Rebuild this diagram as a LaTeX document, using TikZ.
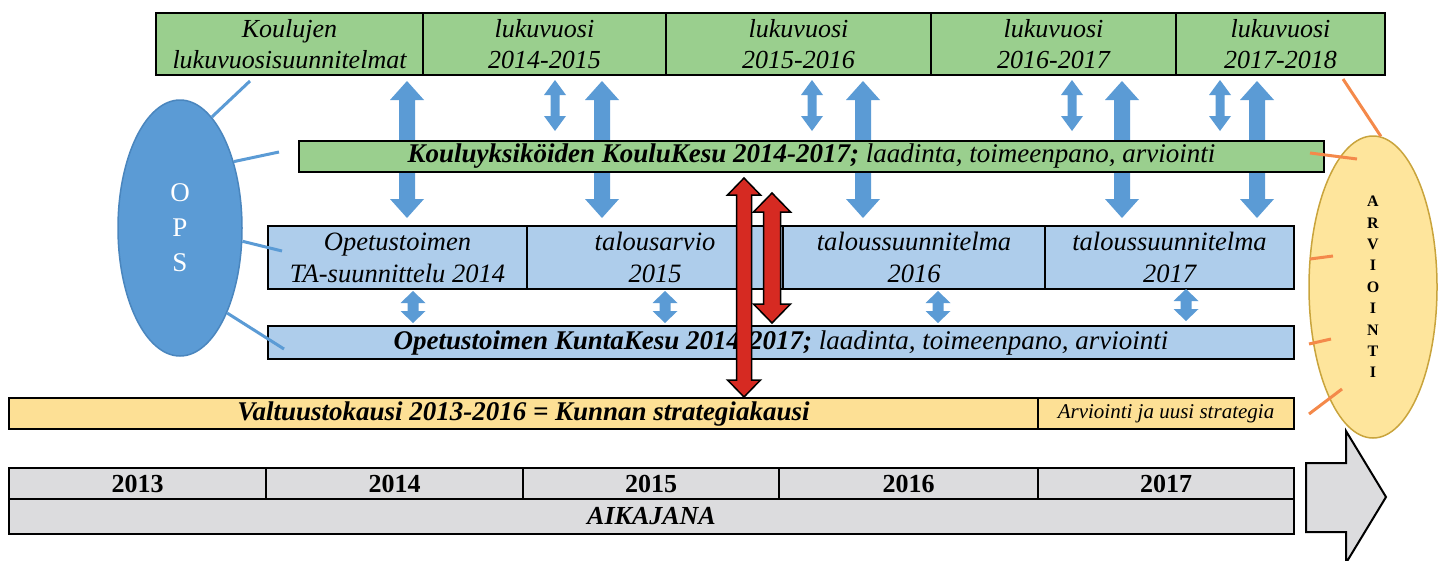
\documentclass[tikz,border=0pt]{standalone}
\usepackage{fontspec}
\setmainfont{Liberation Serif}
\usetikzlibrary{shapes.geometric}
\definecolor{grn}{HTML}{9ACF8E}
\definecolor{lblue}{HTML}{AECDEB}
\definecolor{ylw}{HTML}{FDE095}
\definecolor{gry}{HTML}{DCDCDE}
\definecolor{arrblue}{HTML}{5B9BD5}
\definecolor{opsedge}{HTML}{4A86BE}
\definecolor{evalfill}{HTML}{FEE59C}
\definecolor{evaledge}{HTML}{C9A43C}
\definecolor{orng}{HTML}{F4894A}
\definecolor{rd}{HTML}{D62A22}
% double-headed block arrow: style, x, top tip, bottom tip, head width, head length, shaft width
\newcommand\dblarrow[7]{%
  \path[#1] (#2,#3) -- ({#2+#5/2},{#3+#6}) -- ({#2+#7/2},{#3+#6})
    -- ({#2+#7/2},{#4-#6}) -- ({#2+#5/2},{#4-#6}) -- (#2,#4)
    -- ({#2-#5/2},{#4-#6}) -- ({#2-#7/2},{#4-#6}) -- ({#2-#7/2},{#3+#6})
    -- ({#2-#5/2},{#3+#6}) -- cycle;}
\begin{document}
\begin{tikzpicture}[x=1pt,y=-1pt,
  cell/.style={draw=black, line width=2pt, inner sep=0pt, anchor=north west, align=center},
  topcell/.style={cell, fill=grn, minimum height=62pt, font=\fontsize{26}{31}\selectfont\itshape},
  budcell/.style={cell, fill=lblue, minimum height=63pt, font=\fontsize{26.5}{32}\selectfont\itshape},
  barcell/.style={cell, minimum height=32pt, font=\fontsize{27}{30}\selectfont\itshape},
  yearcell/.style={cell, fill=gry, minimum height=31pt, font=\fontsize{26}{30}\selectfont\bfseries},
  bluearr/.style={fill=arrblue},
  redarr/.style={fill=rd, draw=black, line width=1.5pt, line join=miter},
  opsline/.style={draw=arrblue, line width=3pt},
  evalline/.style={draw=orng, line width=3pt}]
\useasboundingbox (0,0) rectangle (1445,560);
\clip (0,0) rectangle (1445,560);

% school-year plans
\node[topcell, minimum width=267pt] (ly0) at (155,12) {Koulujen\\lukuvuosisuunnitelmat};
\node[topcell, minimum width=243pt] (ly1) at (422,12) {lukuvuosi\\2014-2015};
\node[topcell, minimum width=265pt] (ly2) at (665,12) {lukuvuosi\\2015-2016};
\node[topcell, minimum width=245pt] (ly3) at (930,12) {lukuvuosi\\2016-2017};
\node[topcell, minimum width=209pt] (ly4) at (1175,12) {lukuvuosi\\2017-2018};

% large arrows between school years and budget plans
\dblarrow{bluearr}{407}{81}{218}{34}{19}{16}
\dblarrow{bluearr}{602}{81}{218}{34}{19}{16}
\dblarrow{bluearr}{863}{81}{218}{34}{19}{16}
\dblarrow{bluearr}{1122}{81}{218}{34}{19}{16}
\dblarrow{bluearr}{1257}{81}{218}{34}{19}{16}
% small arrows between school years and KouluKesu
\dblarrow{bluearr}{555}{80}{131}{22}{15}{9}
\dblarrow{bluearr}{812}{80}{131}{22}{15}{9}
\dblarrow{bluearr}{1072}{80}{131}{22}{15}{9}
\dblarrow{bluearr}{1220}{80}{131}{22}{15}{9}

% school units' plan
\node[barcell, fill=grn, minimum width=1025pt, minimum height=31pt] (koulukesu) at (298,140)
  {\textbf{Kouluyksiköiden KouluKesu 2014-2017;} laadinta, toimeenpano, arviointi};

% budget plans
\node[budcell, minimum width=259pt] (ta14) at (267,225) {Opetustoimen\\TA-suunnittelu 2014};
\node[budcell, minimum width=256pt] (ta15) at (526,225) {talousarvio\\2015};
\node[budcell, minimum width=262pt] (ts16) at (782,225) {taloussuunnitelma\\2016};
\node[budcell, minimum width=249pt] (ts17) at (1044,225) {taloussuunnitelma\\2017};

% small arrows between budget plans and KuntaKesu
\dblarrow{bluearr}{413}{291}{323}{25}{12}{11}
\dblarrow{bluearr}{665}{291}{323}{25}{12}{11}
\dblarrow{bluearr}{938}{291}{323}{25}{12}{11}
\dblarrow{bluearr}{1186}{289}{321}{25}{12}{11}

% municipal plan
\node[barcell, fill=lblue, minimum width=1026pt, minimum height=33pt] (kuntakesu) at (267,325)
  {\textbf{Opetustoimen KuntaKesu 2014-2017;} laadinta, toimeenpano, arviointi};

% council term
\node[barcell, fill=ylw, minimum width=1029pt, minimum height=31pt,
  font=\fontsize{27}{30}\selectfont\bfseries\itshape] (valtuusto) at (8,397)
  {Valtuustokausi 2013-2016 = Kunnan strategiakausi};
\node[barcell, fill=ylw, minimum width=256pt, minimum height=31pt,
  font=\fontsize{21}{24}\selectfont\itshape] (uusi) at (1037,397) {Arviointi ja uusi strategia};

% red arrows
\dblarrow{redarr}{744}{178}{397}{33}{17}{15}
\dblarrow{redarr}{772}{193}{323}{37}{19}{17}

% timeline
\path[fill=gry, draw=black, line width=2pt]
  (1306,463) -- (1346,463) -- (1346,431) -- (1386,497) -- (1346,563) -- (1346,532) -- (1306,532) -- cycle;
\node[yearcell, minimum width=257pt] (y13) at (8,467) {2013};
\node[yearcell, minimum width=257pt] (y14) at (265,467) {2014};
\node[yearcell, minimum width=256pt] (y15) at (522,467) {2015};
\node[yearcell, minimum width=259pt] (y16) at (778,467) {2016};
\node[yearcell, minimum width=256pt] (y17) at (1037,467) {2017};
\node[yearcell, minimum width=1285pt, minimum height=35pt, font=\fontsize{26}{30}\selectfont\bfseries\itshape]
  (aikajana) at (8,498) {AIKAJANA};

% curriculum
\node[ellipse, fill=arrblue, draw=opsedge, line width=1.5pt, minimum width=124pt, minimum height=256pt,
  inner sep=0pt, align=center, text=white, font=\fontsize{27}{35}\selectfont] (ops) at (180,228) {O\\P\\S};
\coordinate (o1) at (250,81);
\coordinate (o2) at (279,152);
\coordinate (o3) at (282,251);
\coordinate (o4) at (284,349);
\draw[opsline] (ops.74) -- (o1);
\draw[opsline] (ops.51) -- (o2);
\draw[opsline] (ops.-12) -- (o3);
\draw[opsline] (ops.-61) -- (o4);

% evaluation
\node[ellipse, fill=evalfill, draw=evaledge, line width=1.5pt, minimum width=128pt, minimum height=302pt,
  inner sep=0pt, align=center, font=\fontsize{16}{21.4}\selectfont\bfseries] (eval) at (1373,287)
  {A\\R\\V\\I\\O\\I\\N\\T\\I};
\coordinate (e1) at (1343,79);
\coordinate (e2a) at (1310,153);
\coordinate (e2b) at (1357,159);
\coordinate (e3a) at (1310,259);
\coordinate (e3b) at (1333,256);
\coordinate (e4a) at (1309,344);
\coordinate (e4b) at (1331,339);
\coordinate (e5a) at (1309,414);
\coordinate (e5b) at (1342,389);
\draw[evalline] (e1) -- (eval.87);
\draw[evalline] (e2a) -- (e2b);
\draw[evalline] (e3a) -- (e3b);
\draw[evalline] (e4a) -- (e4b);
\draw[evalline] (e5a) -- (e5b);
\end{tikzpicture}
\end{document}
